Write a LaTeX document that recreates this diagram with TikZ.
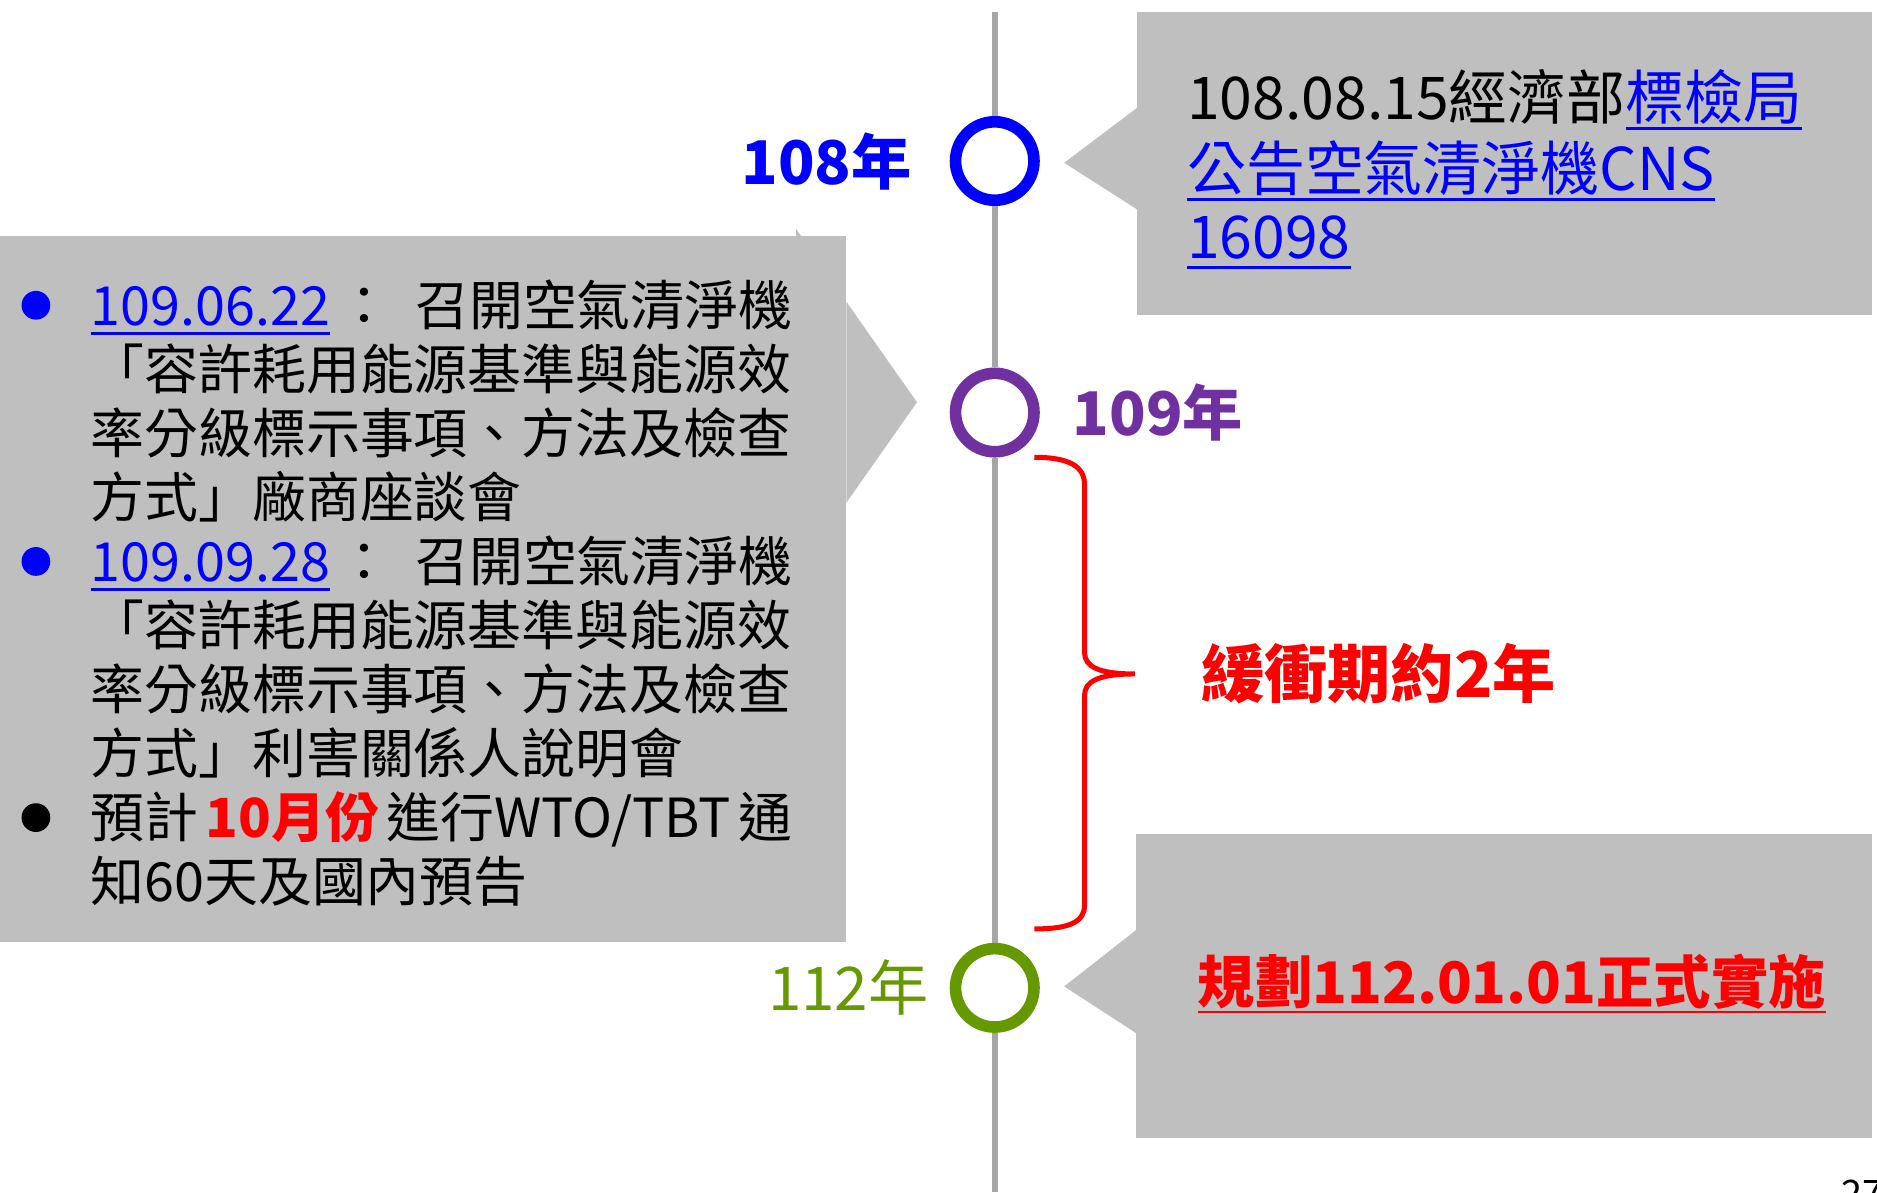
\documentclass[tikz,border=0pt]{standalone}
\usepackage{fontspec}
\setmainfont{Noto Sans CJK TC}
\usetikzlibrary{positioning}

\definecolor{tblue}{HTML}{0000FF}
\definecolor{tpurple}{HTML}{7030A0}
\definecolor{tgreen}{HTML}{669900}
\definecolor{tred}{HTML}{FF0000}
\definecolor{boxgray}{HTML}{BFBFBF}
\definecolor{linegray}{HTML}{A6A6A6}

\newsavebox{\ulsave}
\newcommand{\ulbox}[1]{\sbox{\ulsave}{#1}\rlap{\rule[-0.18em]{\wd\ulsave}{0.05em}}\usebox{\ulsave}}
\newcommand{\fullline}[1]{\makebox[5.86cm][l]{#1}}

\begin{document}
\begin{tikzpicture}[x=0.01cm,y=-0.01cm]
  \tikzstyle{every node} = [inner sep=0pt]
  \tikzstyle{callout} = [fill=boxgray]
  \tikzstyle{ring} = [circle,draw,fill=white,line width=0.097cm,minimum size=0.655cm]
  \tikzstyle{year} = [font=\fontsize{14.3}{17}\selectfont\bfseries]
  \tikzstyle{item} = [anchor=base west,font=\fontsize{12.8}{15}\selectfont]
  \tikzstyle{dot} = [circle,minimum size=0.24cm]
  \tikzstyle{note} = [anchor=base west,font=\fontsize{14}{17}\selectfont]

  \clip (0,0) rectangle (1568,996);

  % callouts
  \fill[callout] (950,10) rectangle (1564,263);
  \fill[callout] (950,90) -- (889,136) -- (950,175) -- cycle;
  \fill[callout] (0,197) rectangle (707,787);
  \fill[callout] (707,252) -- (766,336) -- (707,420) -- cycle;
  \fill[callout] (665,191) -- (669,197) -- (665,197) -- cycle;
  \fill[callout] (949,697) rectangle (1564,951);
  \fill[callout] (949,777) -- (889,824) -- (949,863) -- cycle;

  % timeline
  \coordinate (top) at (831,10);
  \coordinate (bottom) at (831,996);
  \node[ring,draw=tblue] (t108) at (831,134.5) {};
  \node[ring,draw=tpurple] (t109) at (831,344.6) {};
  \node[ring,draw=tgreen] (t112) at (831,825.2) {};
  \draw[linegray,line width=0.053cm] (top) -- (t108) -- (t109) -- (t112) -- (bottom);

  \node[year,text=tblue,left=0.31cm of t108] (y108) {108年};
  \node[year,text=tpurple,right=0.27cm of t109] (y109) {109年};
  \node[year,text=tgreen,font=\fontsize{14.3}{17}\selectfont,left=0.17cm of t112] (y112) {112年};

  \node[note] (n1) at (991,100) {108.08.15經濟部\textcolor{tblue}{\ulbox{標檢局}}};
  \node[note,text=tblue] (n2) at (991,159) {\ulbox{公告空氣清淨機CNS}};
  \node[note,text=tblue] (n3) at (991,216) {\ulbox{16098}};

  \node[dot,fill=tblue] (b1) at (30,255) {};
  \node[item] (l1) at (75,271.5) {\fullline{\textcolor{tblue}{\ulbox{109.06.22}}\hspace{0.06cm}：\hfill{}召開空氣清淨機}};
  \node[item] (l2) at (75,325) {「容許耗用能源基準與能源效};
  \node[item] (l3) at (75,378.5) {率分級標示事項、方法及檢查};
  \node[item] (l4) at (75,432) {方式」廠商座談會};
  \node[dot,fill=tblue] (b2) at (30,469) {};
  \node[item] (l5) at (75,485.5) {\fullline{\textcolor{tblue}{\ulbox{109.09.28}}\hspace{0.06cm}：\hfill{}召開空氣清淨機}};
  \node[item] (l6) at (75,539) {「容許耗用能源基準與能源效};
  \node[item] (l7) at (75,592.5) {率分級標示事項、方法及檢查};
  \node[item] (l8) at (75,646) {方式」利害關係人說明會};
  \node[dot,fill=black] (b3) at (30,683) {};
  \node[item] (l9) at (75,699.5) {\fullline{預計\hfill{}\textcolor{tred}{\bfseries 10月份}\hfill{}進行WTO/TBT\hfill{}通}};
  \node[item] (l10) at (75,753) {知60天及國內預告};

  % brace
  \coordinate (tip) at (948,563);
  \draw[tred,line width=0.042cm] (864,382) .. controls (894,382) and (906,390) .. (906,405) -- (906,545)
    .. controls (906,557) and (918,563) .. (tip) .. controls (918,563) and (906,569) .. (906,581) -- (906,756)
    .. controls (906,770) and (894,776) .. (864,776);
  \node[font=\fontsize{15}{18}\selectfont\bfseries,text=tred,right=0.55cm of tip] (buffer) {緩衝期約2年};

  \node[anchor=base west,font=\fontsize{13.6}{16}\selectfont\bfseries,text=tred] (impl) at (1000,838) {\ulbox{規劃112.01.01正式實施}};

  \node[anchor=north west,font=\fontsize{9}{11}\selectfont] (page) at (1538,985) {27};
\end{tikzpicture}
\end{document}
